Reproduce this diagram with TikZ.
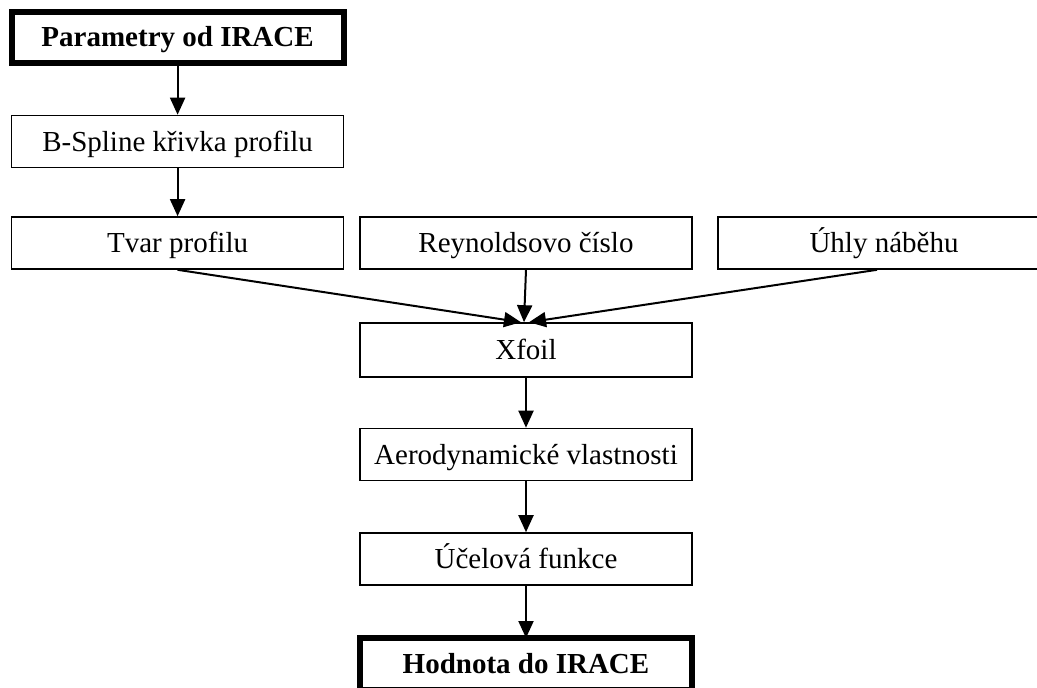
\documentclass[tikz,border=0pt]{standalone}
\usepackage{fontspec}
\setmainfont{Liberation Serif}
\usetikzlibrary{arrows.meta}
\begin{document}
\begin{tikzpicture}[x=1pt,y=-1pt,
  stepbox/.style={draw, line width=1.6pt, minimum width=332pt, minimum height=52pt,
    inner sep=0pt, text height=19pt, text depth=0pt,
    font=\fontsize{29}{34}\selectfont},
  endbox/.style={stepbox, line width=6pt, minimum height=51pt,
    font=\fontsize{29}{34}\selectfont\bfseries},
  flow/.style={line width=2pt, -{Triangle[length=17pt,width=15pt]}}
]
\useasboundingbox (0,0) rectangle (1037,688);
\clip (0,0) rectangle (1037,688);

% main chain of steps
\node[endbox]  (par)  at (177.6,37)   {Parametry od IRACE};
\node[stepbox] (bsp)  at (177.6,141.5){B-Spline křivka profilu};
\node[stepbox] (tvar) at (177.6,243)  {Tvar profilu};
\node[stepbox] (rey)  at (526,243)    {Reynoldsovo číslo};
\node[stepbox] (uhly) at (884,243)    {Úhly náběhu};
\node[stepbox, minimum height=54pt] (xf) at (526,350) {Xfoil};
\node[stepbox] (aero) at (526,454.5)  {Aerodynamické vlastnosti};
\node[stepbox] (ucel) at (526,559)    {Účelová funkce};
\node[endbox, minimum height=52pt] (hod) at (526,664) {Hodnota do IRACE};

% connectors
\draw[flow] (par.south) -- (bsp.north);
\draw[flow] (bsp.south) -- (tvar.north);
\draw[flow] (tvar.south) -- ([xshift=-5pt]xf.north);
\draw[flow] (rey.south) -- ([xshift=-2pt]xf.north);
\draw[flow] ([xshift=-7pt]uhly.south) -- ([xshift=3pt]xf.north);
\draw[flow] (xf.south) -- (aero.north);
\draw[flow] (aero.south) -- (ucel.north);
\draw[flow] (ucel.south) -- ([yshift=-3pt]hod.north);
\end{tikzpicture}
\end{document}
